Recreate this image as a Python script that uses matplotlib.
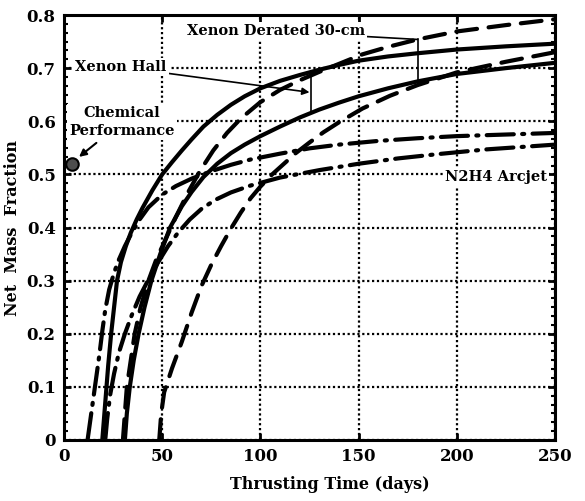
import numpy as np
import matplotlib.pyplot as plt
from matplotlib.ticker import MultipleLocator, AutoMinorLocator

# Xenon Hall (solid), two cases
hallHiT = [19.5, 21, 22.5, 24, 25.5, 27, 29, 31.5, 34, 37, 40, 45, 50, 55, 60, 65, 71, 78, 85,
           92, 100, 110, 120, 130, 140, 150, 165, 180, 200, 225, 250]
hallHiM = [0.0, 0.07, 0.14, 0.2, 0.25, 0.3, 0.335, 0.365, 0.39, 0.415, 0.437, 0.47, 0.5, 0.523,
           0.545, 0.566, 0.59, 0.612, 0.631, 0.647, 0.662, 0.676, 0.687, 0.697, 0.706, 0.714,
           0.722, 0.728, 0.735, 0.741, 0.746]
hallLoT = [31, 32, 33.5, 35.5, 38, 41, 44.5, 49, 54, 60, 65, 71, 78, 85, 92, 100, 110, 120,
           130, 140, 150, 165, 180, 200, 225, 250]
hallLoM = [0.0, 0.05, 0.1, 0.15, 0.2, 0.25, 0.3, 0.35, 0.4, 0.44, 0.467, 0.495, 0.52, 0.54,
           0.556, 0.572, 0.59, 0.607, 0.622, 0.635, 0.647, 0.662, 0.675, 0.689, 0.7, 0.71]

# Xenon Derated 30-cm (dashed), two cases
derHiT = [30, 31, 32, 34, 36, 39, 43, 47, 52, 57, 63, 69, 76, 83, 90, 100, 110, 120, 130, 140,
          152, 165, 180, 200, 225, 250]
derHiM = [0.0, 0.05, 0.1, 0.15, 0.2, 0.25, 0.3, 0.34, 0.38, 0.42, 0.465, 0.505, 0.545, 0.578,
          0.605, 0.636, 0.659, 0.677, 0.693, 0.708, 0.726, 0.74, 0.754, 0.769, 0.781, 0.792]
derLoT = [48.5, 49.5, 51, 55, 60, 65, 70, 75, 80, 85, 90, 95, 100, 106, 112, 118, 125, 132,
          140, 152, 166, 180, 200, 225, 250]
derLoM = [0.0, 0.05, 0.09, 0.135, 0.185, 0.24, 0.29, 0.33, 0.365, 0.398, 0.428, 0.455, 0.477,
          0.5, 0.52, 0.54, 0.56, 0.579, 0.598, 0.624, 0.648, 0.668, 0.692, 0.712, 0.73]

# N2H4 Arcjet (dash-dot), two cases
arcHiT = [12, 13.5, 15, 16.5, 18, 19.5, 21, 23, 25.5, 28, 31, 34.5, 38.5, 43, 50, 57, 65, 75,
          85, 95, 110, 125, 140, 160, 180, 200, 225, 250]
arcHiM = [0.0, 0.04, 0.08, 0.12, 0.16, 0.205, 0.245, 0.283, 0.315, 0.34, 0.365, 0.39, 0.415,
          0.438, 0.462, 0.478, 0.492, 0.506, 0.518, 0.528, 0.539, 0.549, 0.556, 0.563, 0.568,
          0.572, 0.575, 0.578]
arcLoT = [21, 22, 23.5, 25.5, 28, 31, 34.5, 38.5, 43, 48, 53, 58, 64, 70, 77, 85, 95, 110,
          130, 150, 170, 190, 215, 250]
arcLoM = [0.0, 0.04, 0.085, 0.125, 0.165, 0.2, 0.235, 0.27, 0.302, 0.335, 0.365, 0.39, 0.415,
          0.435, 0.452, 0.466, 0.479, 0.494, 0.508, 0.52, 0.53, 0.538, 0.547, 0.556]

chemT, chemM = 4, 0.52

plt.rcParams['font.family'] = 'DejaVu Serif'
plt.rcParams['font.weight'] = 'bold'

fig = plt.figure(figsize=(5.85, 5.01), dpi=100)
ax = fig.add_axes([64/585., 61/501., 491/585., 425/501.])

lw = 3.0
dash = (5, 2.8)
dashdot = (6.5, 2.0, 0.5, 2.0)
ax.plot(hallHiT, hallHiM, '-', color='black', lw=lw, solid_capstyle='round')
ax.plot(hallLoT, hallLoM, '-', color='black', lw=lw, solid_capstyle='round')
ax.plot(derHiT, derHiM, color='black', lw=lw, dashes=dash, dash_capstyle='round')
ax.plot(derLoT, derLoM, color='black', lw=lw, dashes=dash, dash_capstyle='round')
ax.plot(arcHiT, arcHiM, color='black', lw=lw, dashes=dashdot, dash_capstyle='round')
ax.plot(arcLoT, arcLoM, color='black', lw=lw, dashes=dashdot, dash_capstyle='round')

ax.plot([chemT], [chemM], 'o', ms=9, mfc='0.3', mec='black', mew=1.5, clip_on=False, zorder=5)

ax.set_xlim(0, 250)
ax.set_ylim(0, 0.8)
ax.xaxis.set_major_locator(MultipleLocator(50))
ax.yaxis.set_major_locator(MultipleLocator(0.1))
ax.yaxis.set_minor_locator(AutoMinorLocator(6))
ax.yaxis.set_major_formatter(lambda v, p: '0' if v == 0 else '%.1f' % v)
ax.grid(True, which='major', color='black', linestyle=(0, (1, 1.2)), lw=1.6)
ax.tick_params(which='major', direction='in', length=5, width=2, top=True, right=True,
               labelsize=12, pad=6)
ax.tick_params(which='minor', direction='in', length=3, width=1.5, left=True, right=True)
for s in ax.spines.values():
    s.set_linewidth(2.2)
ax.set_xlabel('Thrusting Time (days)', fontsize=11.5, fontweight='bold')
ax.xaxis.set_label_coords(0.542, -0.085)
ax.set_ylabel('Net  Mass  Fraction', fontsize=11.5, fontweight='bold')
ax.yaxis.set_label_coords(-0.088, 0.5)

box = dict(facecolor='white', edgecolor='none', pad=1.5)

# Xenon Hall annotation: bar between the two solid curves
tHall = 126
hTop = np.interp(tHall, hallHiT, hallHiM)
hBot = np.interp(tHall, hallLoT, hallLoM)
ax.plot([tHall, tHall], [hTop, hBot], color='black', lw=1.2)
ax.annotate('Xenon Hall', xy=(tHall - 1, 0.5*(hTop + hBot)), xytext=(29, 0.702),
            ha='center', va='center', fontsize=10.5, bbox=box,
            arrowprops=dict(arrowstyle='-|>', color='black', lw=1.2, shrinkA=0, shrinkB=0))

# Xenon Derated annotation: bar between the two dashed curves
tDer = 180
dTop = np.interp(tDer, derHiT, derHiM)
dBot = np.interp(tDer, derLoT, derLoM)
ax.plot([tDer, tDer], [dTop, dBot], color='black', lw=1.2)
ax.annotate('Xenon Derated 30-cm', xy=(tDer, dTop), xytext=(108, 0.769),
            ha='center', va='center', fontsize=10.5, bbox=box,
            arrowprops=dict(arrowstyle='-', color='black', lw=1.2, shrinkA=0, shrinkB=0))

ax.text(220, 0.496, 'N2H4 Arcjet', ha='center', va='center', fontsize=10.5, bbox=box)

ax.annotate('Chemical\nPerformance', xy=(chemT + 2, chemM + 0.008), xytext=(29.5, 0.598),
            ha='center', va='center', fontsize=10.5, linespacing=1.35, bbox=box,
            arrowprops=dict(arrowstyle='-|>', color='black', lw=1.5, shrinkA=3, shrinkB=3))

fig.savefig('out.png', dpi=100)
